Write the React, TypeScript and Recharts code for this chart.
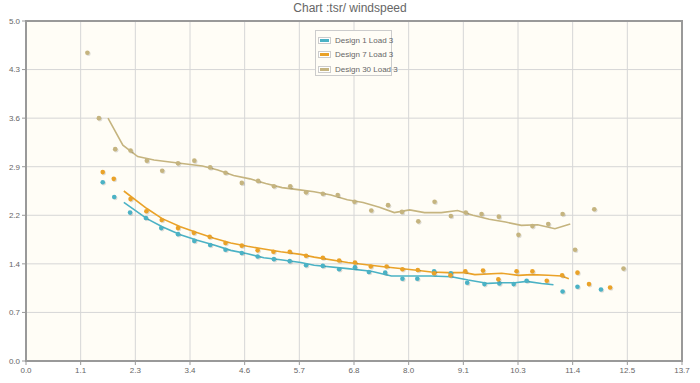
import React from 'react';
import {
  ComposedChart,
  Scatter,
  Line,
  XAxis,
  YAxis,
  CartesianGrid,
  ReferenceArea,
} from 'recharts';

const chartTitle = 'Chart :tsr/ windspeed';
const seriesNames = ['Design 1 Load 3', 'Design 7 Load 3', 'Design 30 Load 3'];
const seriesColors = ['#4bb2c5', '#eaa228', '#c5b47f'];

const xTicks = [0, 1.14, 2.28, 3.42, 4.56, 5.7, 6.84, 7.98, 9.12, 10.26, 11.4, 12.54, 13.68];
const xTickLabels = ['0.0', '1.1', '2.3', '3.4', '4.6', '5.7', '6.8', '8.0', '9.1', '10.3', '11.4', '12.5', '13.7'];
const yTicks = [0, 0.72, 1.44, 2.16, 2.88, 3.6, 4.32, 5.04];
const yTickLabels = ['0.0', '0.7', '1.4', '2.2', '2.9', '3.6', '4.3', '5.0'];

// Design 1 Load 3 - measured points
const d1X = [1.6, 1.84, 2.17, 2.5, 2.82, 3.17, 3.51, 3.84, 4.16, 4.5, 4.83, 5.17, 5.5, 5.84, 6.19, 6.53, 6.86, 7.15, 7.49, 7.85, 8.16, 8.51, 8.86, 9.2, 9.56, 9.87, 10.17, 10.44, 11.19, 11.5, 11.99];
const d1Y = [2.65, 2.43, 2.2, 2.12, 1.97, 1.88, 1.78, 1.72, 1.65, 1.6, 1.55, 1.51, 1.48, 1.42, 1.41, 1.36, 1.39, 1.32, 1.31, 1.22, 1.22, 1.33, 1.3, 1.16, 1.14, 1.15, 1.14, 1.19, 1.03, 1.1, 1.06];
// Design 1 Load 3 - trend line
const d1TrendX = [2.04, 2.52, 2.84, 3.22, 3.57, 3.92, 4.27, 4.62, 4.96, 5.31, 5.73, 6.01, 6.71, 7.2, 7.62, 8.1, 8.45, 8.87, 9.22, 9.64, 9.92, 10.2, 10.44, 10.75, 11.0];
const d1TrendY = [2.35, 2.11, 1.99, 1.87, 1.79, 1.72, 1.64, 1.59, 1.53, 1.5, 1.46, 1.42, 1.37, 1.33, 1.26, 1.26, 1.26, 1.25, 1.2, 1.15, 1.16, 1.16, 1.18, 1.15, 1.13];

// Design 7 Load 3 - measured points
const d7X = [1.6, 1.83, 2.18, 2.51, 2.83, 3.17, 3.5, 3.83, 4.16, 4.5, 4.83, 5.16, 5.5, 5.84, 6.19, 6.53, 6.86, 7.19, 7.52, 7.85, 8.17, 8.51, 8.85, 9.16, 9.53, 9.85, 10.23, 10.56, 10.86, 11.18, 11.5, 11.74, 12.18];
const d7Y = [2.8, 2.7, 2.4, 2.22, 2.09, 1.97, 1.9, 1.84, 1.75, 1.71, 1.64, 1.62, 1.62, 1.56, 1.53, 1.49, 1.46, 1.4, 1.4, 1.36, 1.35, 1.3, 1.27, 1.33, 1.34, 1.21, 1.33, 1.33, 1.19, 1.27, 1.31, 1.14, 1.09];
// Design 7 Load 3 - trend line
const d7TrendX = [2.04, 2.52, 2.84, 3.22, 3.5, 3.92, 4.27, 4.62, 4.96, 5.31, 5.73, 6.01, 6.71, 7.41, 8.1, 8.45, 8.8, 9.15, 9.36, 9.92, 10.27, 10.54, 10.89, 11.17, 11.32];
const d7TrendY = [2.52, 2.26, 2.11, 1.99, 1.92, 1.82, 1.75, 1.7, 1.66, 1.62, 1.58, 1.54, 1.46, 1.4, 1.35, 1.32, 1.31, 1.31, 1.28, 1.3, 1.27, 1.28, 1.27, 1.26, 1.22];

// Design 30 Load 3 - measured points
const d30X = [1.28, 1.52, 1.86, 2.18, 2.52, 2.84, 3.17, 3.51, 3.84, 4.16, 4.5, 4.84, 5.17, 5.51, 5.84, 6.19, 6.5, 6.85, 7.2, 7.55, 7.84, 8.18, 8.52, 8.86, 9.17, 9.5, 9.86, 10.27, 10.56, 10.89, 11.19, 11.45, 11.85, 12.46];
const d30Y = [4.57, 3.6, 3.14, 3.12, 2.97, 2.82, 2.93, 2.97, 2.87, 2.79, 2.64, 2.67, 2.59, 2.59, 2.5, 2.48, 2.46, 2.36, 2.23, 2.31, 2.21, 2.07, 2.36, 2.15, 2.2, 2.18, 2.14, 1.87, 2.0, 2.03, 2.18, 1.65, 2.25, 1.37];
// Design 30 Load 3 - trend line
const d30TrendX = [1.71, 2.02, 2.33, 2.67, 3.0, 3.34, 3.68, 4.0, 4.33, 4.67, 5.0, 5.34, 5.67, 6.01, 6.36, 6.7, 7.03, 7.37, 7.68, 8.0, 8.31, 8.66, 9.0, 9.32, 9.66, 10.0, 10.33, 10.67, 11.03, 11.35];
const d30TrendY = [3.6, 3.2, 3.03, 2.98, 2.95, 2.92, 2.89, 2.83, 2.75, 2.7, 2.63, 2.57, 2.54, 2.51, 2.46, 2.39, 2.35, 2.28, 2.2, 2.24, 2.2, 2.2, 2.23, 2.16, 2.1, 2.06, 2.01, 2.02, 1.96, 2.03];

const zip = (xs: number[], ys: number[]) => xs.map((x, i) => ({ x, y: ys[i] }));

const scatterSets = [zip(d1X, d1Y), zip(d7X, d7Y), zip(d30X, d30Y)];
const trendSets = [zip(d1TrendX, d1TrendY), zip(d7TrendX, d7TrendY), zip(d30TrendX, d30TrendY)];

const FONT = '"Liberation Sans", Arial, sans-serif';

const makeDot = (color: string) => (props: any) => {
  const { cx, cy } = props;
  if (cx == null || cy == null) return <g />;
  return (
    <g>
      <circle cx={cx + 1} cy={cy + 1} r={2.3} fill="rgba(0,0,0,0.13)" />
      <circle cx={cx} cy={cy} r={2.3} fill={color} />
    </g>
  );
};

const xFmt = (v: number) => {
  const i = xTicks.indexOf(v);
  return i >= 0 ? xTickLabels[i] : String(v);
};
const yFmt = (v: number) => {
  const i = yTicks.indexOf(v);
  return i >= 0 ? yTickLabels[i] : String(v);
};

export default function App() {
  return (
    <div style={{ position: 'absolute', left: 0, top: 0, width: 700, height: 383, background: '#ffffff' }}>
      <div
        style={{
          position: 'absolute',
          left: 0,
          top: 1,
          width: 700,
          textAlign: 'center',
          fontFamily: FONT,
          fontSize: 12,
          color: '#666666',
        }}
      >
        {chartTitle}
      </div>
      <ComposedChart
        width={700}
        height={383}
        margin={{ top: 21, right: 18, left: 0, bottom: 0 }}
        style={{ position: 'absolute', left: 0, top: 0 }}
      >
        <CartesianGrid stroke="#d6d6d6" strokeWidth={1} fill="#fffdf6" />
        <XAxis
          type="number"
          dataKey="x"
          domain={[0, 13.68]}
          ticks={xTicks}
          tickFormatter={xFmt}
          allowDataOverflow
          height={22}
          axisLine={false}
          tickLine={{ stroke: '#999999' }}
          tickSize={4}
          tick={{ fontSize: 8, fill: '#666666', fontFamily: FONT }}
        />
        <YAxis
          type="number"
          dataKey="y"
          domain={[0, 5.04]}
          ticks={yTicks}
          tickFormatter={yFmt}
          allowDataOverflow
          width={26}
          axisLine={false}
          tickLine={{ stroke: '#999999' }}
          tickSize={4}
          tick={{ fontSize: 8, fill: '#666666', fontFamily: FONT }}
        />
        <ReferenceArea
          x1={0}
          x2={13.68}
          y1={0}
          y2={5.04}
          fill="none"
          fillOpacity={0}
          stroke="#999999"
          strokeWidth={2}
          ifOverflow="visible"
        />
        {trendSets.map((d, i) => (
          <Line
            key={'t' + i}
            data={d}
            dataKey="y"
            type="linear"
            stroke={seriesColors[i]}
            strokeWidth={1.6}
            dot={false}
            activeDot={false}
            isAnimationActive={false}
            legendType="none"
          />
        ))}
        {scatterSets.map((d, i) => (
          <Scatter
            key={'s' + i}
            name={seriesNames[i]}
            data={d}
            dataKey="y"
            fill={seriesColors[i]}
            shape={makeDot(seriesColors[i])}
            isAnimationActive={false}
          />
        ))}
      </ComposedChart>
      <div
        style={{
          position: 'absolute',
          left: 315,
          top: 30,
          width: 77,
          height: 46,
          border: '1px solid #cccccc',
          background: '#fffdf6',
          fontFamily: FONT,
          fontSize: 8,
          color: '#666666',
          boxSizing: 'border-box',
        }}
      >
        {seriesNames.map((n, i) => (
          <div key={n} style={{ position: 'absolute', left: 2, top: 4 + i * 14.5, height: 10, display: 'flex', alignItems: 'center' }}>
            <div
              style={{
                width: 13,
                height: 7,
                border: '1px solid #cccccc',
                padding: 1,
                boxSizing: 'border-box',
                marginRight: 4,
                background: '#ffffff',
              }}
            >
              <div style={{ width: '100%', height: '100%', background: seriesColors[i] }} />
            </div>
            <span style={{ whiteSpace: 'nowrap' }}>{n}</span>
          </div>
        ))}
      </div>
    </div>
  );
}
